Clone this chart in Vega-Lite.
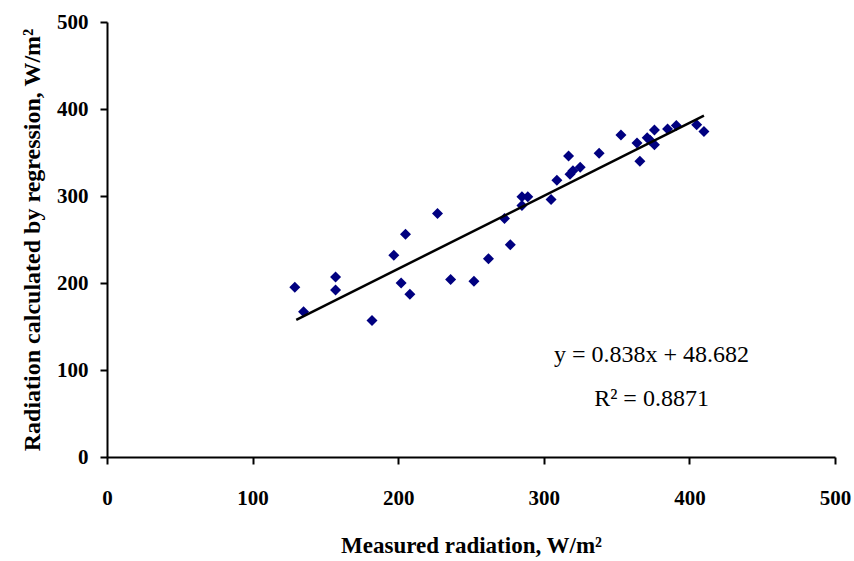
{
  "$schema": "https://vega.github.io/schema/vega-lite/v6.json",
  "autosize": "none",
  "width": 728,
  "height": 435,
  "padding": {"left": 107, "top": 22, "right": 19, "bottom": 104},
  "background": "white",
  "config": {
    "view": {"stroke": null},
    "font": "Liberation Serif",
    "axis": {
      "grid": false,
      "domainColor": "black",
      "domainWidth": 2,
      "tickColor": "black",
      "tickWidth": 2,
      "tickSize": 7,
      "labelFlush": false,
      "labelFont": "Liberation Serif",
      "labelFontWeight": "bold",
      "labelFontSize": 21,
      "labelColor": "black",
      "titleFont": "Liberation Serif",
      "titleFontWeight": "bold",
      "titleColor": "black"
    }
  },
  "datasets": {
    "pts": [
      {"measured": 129, "calc": 195},
      {"measured": 135, "calc": 167},
      {"measured": 157, "calc": 207},
      {"measured": 157, "calc": 192},
      {"measured": 182, "calc": 157},
      {"measured": 197, "calc": 232},
      {"measured": 205, "calc": 256},
      {"measured": 202, "calc": 200},
      {"measured": 208, "calc": 187},
      {"measured": 227, "calc": 280},
      {"measured": 236, "calc": 204},
      {"measured": 252, "calc": 202},
      {"measured": 262, "calc": 228},
      {"measured": 273, "calc": 274},
      {"measured": 277, "calc": 244},
      {"measured": 285, "calc": 299},
      {"measured": 289, "calc": 299},
      {"measured": 285, "calc": 289},
      {"measured": 305, "calc": 296},
      {"measured": 309, "calc": 318},
      {"measured": 317, "calc": 346},
      {"measured": 318, "calc": 325},
      {"measured": 320, "calc": 329},
      {"measured": 325, "calc": 333},
      {"measured": 338, "calc": 349},
      {"measured": 353, "calc": 370},
      {"measured": 364, "calc": 361},
      {"measured": 366, "calc": 340},
      {"measured": 371, "calc": 367},
      {"measured": 373, "calc": 364},
      {"measured": 376, "calc": 376},
      {"measured": 376, "calc": 359},
      {"measured": 385, "calc": 377},
      {"measured": 391, "calc": 381},
      {"measured": 405, "calc": 382},
      {"measured": 410, "calc": 374}
    ],
    "fit": [
      {"measured": 130, "calc": 157.6},
      {"measured": 410, "calc": 392.3}
    ],
    "labels": [
      {"measured": 374, "calc": 117, "text": "y = 0.838x + 48.682"},
      {"measured": 374, "calc": 67, "text": "R² = 0.8871"}
    ]
  },
  "layer": [
    {
      "data": {"name": "pts"},
      "mark": {"type": "point", "shape": "diamond", "filled": true, "size": 121, "color": "#000080", "opacity": 1},
      "encoding": {
        "x": {"field": "measured", "type": "quantitative", "scale": {"domain": [0, 500], "nice": false, "zero": true},
              "axis": {"values": [0, 100, 200, 300, 400, 500], "title": "Measured radiation, W/m²", "titleFontSize": 23, "labelPadding": 23, "titlePadding": 26}},
        "y": {"field": "calc", "type": "quantitative", "scale": {"domain": [0, 500], "nice": false, "zero": true},
              "axis": {"values": [0, 100, 200, 300, 400, 500], "title": "Radiation calculated by regression, W/m²", "titleFontSize": 24, "labelPadding": 12, "titlePadding": 12}}
      }
    },
    {
      "data": {"name": "fit"},
      "mark": {"type": "line", "color": "black", "strokeWidth": 2.5},
      "encoding": {
        "x": {"field": "measured", "type": "quantitative"},
        "y": {"field": "calc", "type": "quantitative"}
      }
    },
    {
      "data": {"name": "labels"},
      "mark": {"type": "text", "font": "Liberation Serif", "fontSize": 24, "color": "black", "align": "center", "baseline": "middle"},
      "encoding": {
        "x": {"field": "measured", "type": "quantitative"},
        "y": {"field": "calc", "type": "quantitative"},
        "text": {"field": "text"}
      }
    }
  ]
}
